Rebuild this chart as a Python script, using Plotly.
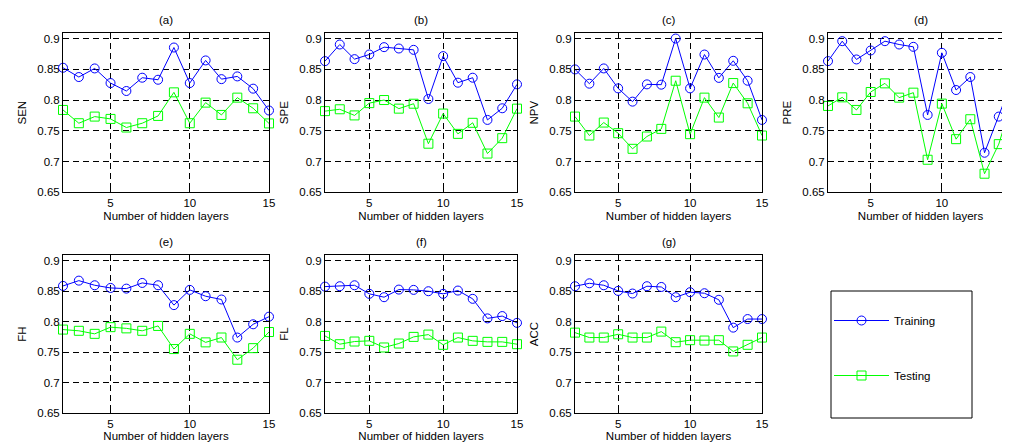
import plotly.graph_objects as go

layers = list(range(2, 16))

panel_titles = ["(a)", "(b)", "(c)", "(d)", "(e)", "(f)", "(g)"]
metric_names = ["SEN", "SPE", "NPV", "PRE", "FH", "FL", "ACC"]

sen_train = [0.8525, 0.8374, 0.8514, 0.8276, 0.8147, 0.8363, 0.833, 0.8854, 0.8276, 0.8644, 0.834, 0.8384, 0.8185, 0.783]
sen_test = [0.7839, 0.7623, 0.7731, 0.7693, 0.7553, 0.7623, 0.7742, 0.8125, 0.7623, 0.7958, 0.7758, 0.8039, 0.7866, 0.762]

spe_train = [0.8633, 0.8903, 0.8665, 0.8741, 0.886, 0.8838, 0.8816, 0.8017, 0.8714, 0.8282, 0.8363, 0.7677, 0.7866, 0.8255]
spe_test = [0.782, 0.785, 0.775, 0.795, 0.800, 0.786, 0.794, 0.729, 0.778, 0.745, 0.763, 0.713, 0.738, 0.786]

npv_train = [0.8498, 0.8266, 0.8514, 0.819, 0.7974, 0.8255, 0.825, 0.900, 0.819, 0.874, 0.836, 0.8638, 0.8314, 0.7677]
npv_test = [0.7731, 0.7423, 0.7634, 0.7461, 0.7207, 0.7407, 0.7531, 0.8314, 0.7445, 0.8039, 0.7715, 0.8276, 0.7947, 0.7423]

pre_train = [0.8633, 0.8957, 0.866, 0.8806, 0.8957, 0.8903, 0.8865, 0.7758, 0.8768, 0.8163, 0.8374, 0.7143, 0.7731, 0.8352]
pre_test = [0.7904, 0.8044, 0.7839, 0.8131, 0.8271, 0.8039, 0.812, 0.7029, 0.7942, 0.7364, 0.7688, 0.6802, 0.7283, 0.8039]

fh_train = [0.8587, 0.8674, 0.8598, 0.8554, 0.8543, 0.8636, 0.8598, 0.8272, 0.8522, 0.8418, 0.8364, 0.7739, 0.7957, 0.8082]
fh_test = [0.787, 0.785, 0.780, 0.791, 0.789, 0.785, 0.793, 0.755, 0.780, 0.766, 0.774, 0.7375, 0.7565, 0.783]

fl_train = [0.8576, 0.8582, 0.8598, 0.8457, 0.8402, 0.8527, 0.8522, 0.850, 0.8457, 0.8511, 0.8375, 0.8054, 0.8092, 0.798]
fl_test = [0.7766, 0.763, 0.7674, 0.7685, 0.7576, 0.7641, 0.775, 0.7788, 0.762, 0.7739, 0.7685, 0.7668, 0.7668, 0.763]

acc_train = [0.8582, 0.863, 0.8598, 0.8505, 0.8462, 0.8582, 0.857, 0.8402, 0.8484, 0.8467, 0.8359, 0.7902, 0.8043, 0.8043]
acc_test = [0.782, 0.7739, 0.7739, 0.7793, 0.7739, 0.7739, 0.7837, 0.7663, 0.7696, 0.769, 0.7696, 0.7511, 0.762, 0.7739]

train_series = [sen_train, spe_train, npv_train, pre_train, fh_train, fl_train, acc_train]
test_series = [sen_test, spe_test, npv_test, pre_test, fh_test, fl_test, acc_test]

x_ticks = [5, 10, 15]
y_ticks = [0.65, 0.7, 0.75, 0.8, 0.85, 0.9]
y_ticklabels = ["0.65", "0.7", "0.75", "0.8", "0.85", "0.9"]

W, H = 1010, 442
col_px = [(55, 261), (317, 509), (567, 754), (820, 1005)]
row_px = [(25, 184.3), (247.3, 405)]

FONT = "Liberation Sans, Arial, sans-serif"
BLUE = "rgb(0,0,255)"
GREEN = "rgb(0,255,0)"

fig = go.Figure()
annotations = []
layout_axes = {}

for i in range(7):
    r, c = divmod(i, 4)
    n = i + 1
    xa = "x" if n == 1 else f"x{n}"
    ya = "y" if n == 1 else f"y{n}"
    xdom = [col_px[c][0] / W, col_px[c][1] / W]
    ydom = [1 - row_px[r][1] / H, 1 - row_px[r][0] / H]

    fig.add_trace(go.Scatter(
        x=layers, y=train_series[i], mode="lines+markers", name="Training",
        line=dict(color=BLUE, width=1),
        marker=dict(symbol="circle-open", size=9, color=BLUE, line=dict(width=1, color=BLUE)),
        xaxis=xa, yaxis=ya, cliponaxis=False, showlegend=(i == 0), legendgroup="tr"))
    fig.add_trace(go.Scatter(
        x=layers, y=test_series[i], mode="lines+markers", name="Testing",
        line=dict(color=GREEN, width=1),
        marker=dict(symbol="square-open", size=9, color=GREEN, line=dict(width=1, color=GREEN)),
        xaxis=xa, yaxis=ya, cliponaxis=False, showlegend=(i == 0), legendgroup="te"))

    common = dict(showline=True, linecolor="black", linewidth=1, mirror="ticks",
                  ticks="inside", ticklen=4, tickcolor="black", tickwidth=1,
                  showgrid=True, gridcolor="black", gridwidth=0.8, griddash="6px,4px",
                  zeroline=False, tickfont=dict(family=FONT, size=11.5, color="black"),
                  automargin=False, ticklabeloverflow="allow")
    layout_axes["xaxis" if n == 1 else f"xaxis{n}"] = dict(
        common, domain=xdom, anchor=ya, range=[2, 15], tickvals=x_ticks,
        ticktext=[str(v) for v in x_ticks],
        title=dict(text="Number of hidden layers", standoff=3,
                   font=dict(family=FONT, size=11.5, color="black")))
    layout_axes["yaxis" if n == 1 else f"yaxis{n}"] = dict(
        common, domain=ydom, anchor=xa, range=[0.65, 0.909], tickvals=y_ticks,
        ticktext=y_ticklabels,
        title=dict(text=metric_names[i], standoff=8,
                   font=dict(family=FONT, size=11.5, color="black")))
    annotations.append(dict(
        text=panel_titles[i], x=(xdom[0] + xdom[1]) / 2, y=ydom[1], xref="paper", yref="paper",
        xanchor="center", yanchor="bottom", yshift=5, showarrow=False,
        font=dict(family=FONT, size=11.5, color="black")))

fig.update_layout(
    width=W, height=H, autosize=False,
    margin=dict(l=0, r=0, t=0, b=0),
    paper_bgcolor="white", plot_bgcolor="white",
    annotations=annotations,
    showlegend=True,
    legend=dict(x=821 / W, y=1 - 298 / H, xanchor="left", yanchor="top",
                bgcolor="rgba(0,0,0,0)", borderwidth=0, tracegroupgap=36,
                itemwidth=55, font=dict(family=FONT, size=11.5, color="black")),
    shapes=[dict(type="rect", xref="paper", yref="paper",
                 x0=823 / W, x1=964 / W, y0=1 - 410 / H, y1=1 - 283 / H,
                 line=dict(color="black", width=1), fillcolor="rgba(0,0,0,0)")],
    **layout_axes,
)

fig.write_html("out.html")
